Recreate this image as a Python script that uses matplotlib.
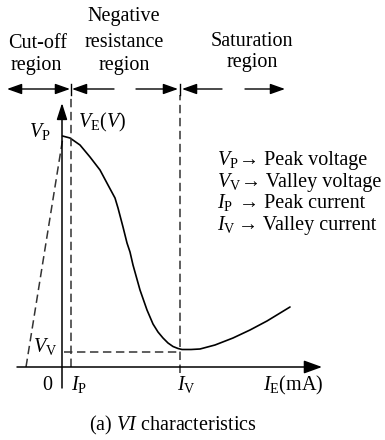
import numpy as np
import matplotlib
matplotlib.use("Agg")
import matplotlib.pyplot as plt

plt.rcParams['font.family'] = ['Liberation Serif', 'DejaVu Serif']
plt.rcParams['mathtext.fontset'] = 'custom'
plt.rcParams['mathtext.rm'] = 'Liberation Serif'
plt.rcParams['mathtext.it'] = 'Liberation Serif:italic'

# emitter current I_E (mA) and emitter voltage V_E (V) along the characteristic
i_e = [0.05, 0.8, 1.8, 2.8, 3.8, 4.6, 5.3, 5.6, 6.1, 6.5, 6.8, 7.1, 7.8, 8.5,
       8.8, 9.1, 9.6, 10.1, 10.6, 11.1, 11.6, 12.0, 12.9, 13.8, 15.3, 17.1,
       18.8, 20.5, 22.8]
v_e = [23.1, 22.9, 22.2, 21.0, 19.7, 18.2, 16.9, 15.9, 14.0, 12.4, 11.5, 10.2,
       7.7, 5.7, 5.0, 4.3, 3.5, 2.9, 2.4, 2.05, 1.85, 1.75, 1.75, 1.8, 2.2,
       2.9, 3.7, 4.6, 6.0]

# cut-off region load line
cut_i = [-3.6, 0.1]
cut_v = [0.0, 23.0]

I_P = 0.9
I_V = 11.8
V_V = 1.5

region_y = 27.8
region_names = ["Cut-off", "Negative", "Saturation"]

legend_labels = [r"$V_{\mathrm{P}}$", r"$V_{\mathrm{V}}$", r"$I_{\mathrm{P}}$", r"$I_{\mathrm{V}}$"]
legend_text = ["\u2192 Peak voltage", "\u2192 Valley voltage", "\u2192 Peak current", "\u2192 Valley current"]

fig = plt.figure(figsize=(3.85, 4.40), dpi=100)
ax = fig.add_axes([0, 0, 1, 1])
ax.set_xlim(-6.2, 32.3)
ax.set_ylim(-7.3, 36.7)
ax.axis('off')

dash = (0, (5.5, 3))
dcol = '#333333'
fs = 14.5

# axes with arrow heads
ax.annotate('', xy=(26.0, 0), xytext=(-4.5, 0),
            arrowprops=dict(arrowstyle='-|>,head_length=0.55,head_width=0.2',
                            lw=1.1, color='black', shrinkA=0, shrinkB=0, mutation_scale=20))
ax.annotate('', xy=(0, 26.4), xytext=(0, -2.1),
            arrowprops=dict(arrowstyle='-|>,head_length=0.5,head_width=0.16',
                            lw=1.1, color='black', shrinkA=0, shrinkB=0, mutation_scale=20))

# characteristic curve and guide lines
ax.plot(i_e, v_e, color='black', lw=1.2, solid_capstyle='round', solid_joinstyle='round')
ax.plot(cut_i, cut_v, color=dcol, lw=1.1, linestyle=dash)
ax.plot([I_P, I_P], [0, 27.2], color=dcol, lw=1.1, linestyle=dash)
ax.plot([I_V, I_V], [-0.6, 27.2], color=dcol, lw=1.1, linestyle=dash)
ax.plot([0.2, I_V], [V_V, V_V], color=dcol, lw=1.1, linestyle=dash)
for xb in [I_P, I_V]:
    ax.plot([xb, xb], [27.2, 28.3], color='black', lw=1.0)

# region arrows
arr = dict(lw=1.0, color='black', shrinkA=0, shrinkB=0, mutation_scale=20)
ax.annotate('', xy=(-5.5, region_y), xytext=(0.8, region_y),
            arrowprops=dict(arrowstyle='<|-|>,head_length=0.45,head_width=0.16', **arr))
for x0, x1 in [(5.2, 1.0), (7.4, 11.6), (16.0, 12.0), (18.3, 22.3)]:
    ax.annotate('', xy=(x1, region_y), xytext=(x0, region_y),
                arrowprops=dict(arrowstyle='-|>,head_length=0.45,head_width=0.16', **arr))

# region names
ax.text(-2.45, 31.9, region_names[0], ha='center', va='baseline', fontsize=fs)
ax.text(-2.55, 29.7, "region", ha='center', va='baseline', fontsize=fs)
ax.text(6.2, 34.6, region_names[1], ha='center', va='baseline', fontsize=fs)
ax.text(6.2, 32.0, "resistance", ha='center', va='baseline', fontsize=fs)
ax.text(6.2, 29.7, "region", ha='center', va='baseline', fontsize=fs)
ax.text(19.0, 32.1, region_names[2], ha='center', va='baseline', fontsize=fs)
ax.text(19.05, 30.0, "region", ha='center', va='baseline', fontsize=fs)

# axis labels
ax.text(-3.3, 23.0, r"$V_{\mathrm{P}}$", ha='left', va='baseline', fontsize=fs)
ax.text(1.6, 24.0, r"$V_{\mathrm{E}}(V)$", ha='left', va='baseline', fontsize=fs)
ax.text(-2.9, 1.5, r"$V_{\mathrm{V}}$", ha='left', va='baseline', fontsize=fs)
ax.text(-1.45, -2.3, "0", ha='center', va='baseline', fontsize=fs)
ax.text(0.9, -2.3, r"$I_{\mathrm{P}}$", ha='left', va='baseline', fontsize=fs)
ax.text(11.5, -2.3, r"$I_{\mathrm{V}}$", ha='left', va='baseline', fontsize=fs)
ax.text(20.1, -2.3, r"$I_{\mathrm{E}}$(mA)", ha='left', va='baseline', fontsize=fs)

# symbol key
key_y = [20.2, 18.0, 15.9, 13.7]
key_x = [17.7, 17.9, 17.7, 17.6]
for lab, txt, y, x in zip(legend_labels, legend_text, key_y, key_x):
    ax.text(15.5, y, lab, ha='left', va='baseline', fontsize=fs)
    ax.text(x, y, txt, ha='left', va='baseline', fontsize=fs)

ax.text(11.1, -6.3, r"(a) $VI$ characteristics", ha='center', va='baseline', fontsize=fs)

fig.savefig("out.png", dpi=100)
